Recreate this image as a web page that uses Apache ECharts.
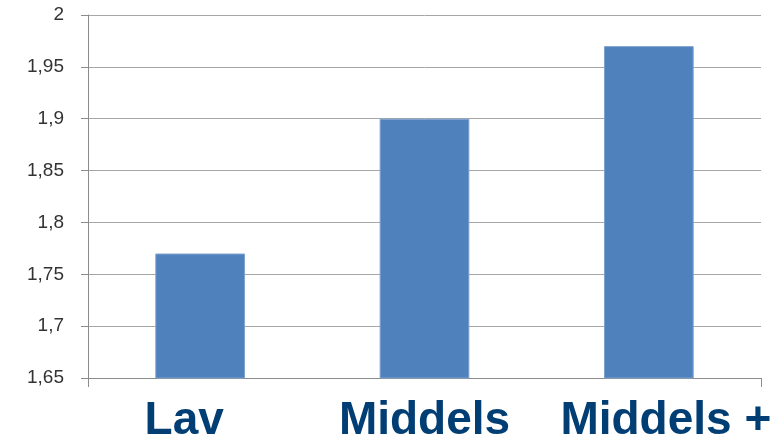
<!DOCTYPE html>
<html>
<head>
<meta charset="utf-8">
<script src="https://cdn.jsdelivr.net/npm/echarts@6/dist/echarts.min.js"></script>
<style>html,body{margin:0;padding:0;background:#fff}#c{width:784px;height:440px}</style>
</head>
<body>
<div id="c"></div>
<script>
var categories = ['Lav', 'Middels', 'Middels +'];
var values = [1.77, 1.90, 1.97];
var yMin = 1.65, yMax = 2.0, yStep = 0.05;

var chart = echarts.init(document.getElementById('c'), null, {renderer: 'canvas'});
var labelFont = {fontFamily: 'Liberation Sans, Arial, sans-serif', fontWeight: 'bold', fontSize: 46, color: '#003E73'};
chart.setOption({
  animation: false,
  grid: {left: 88, right: 23, top: 15, bottom: 62, containLabel: false, outerBoundsMode: 'none'},
  xAxis: {
    type: 'category',
    data: categories,
    axisLine: {lineStyle: {color: '#8c8c8c', width: 1}},
    axisTick: {show: true, length: 9, lineStyle: {color: '#8c8c8c'},
      interval: function (i) { return i === 0 || i === categories.length; }},
    axisLabel: {
      margin: 20,
      fontFamily: labelFont.fontFamily,
      fontWeight: 'bold',
      fontSize: 46,
      color: '#003E73',
      interval: 0,
      formatter: function (v, i) { return i === 0 ? '{a|' + v + '}' : (i === 2 ? '{s|' + v + '}' : v); },
      rich: {
        a: Object.assign({padding: [0, 32, 0, 0]}, labelFont),
        s: Object.assign({padding: [0, 0, 0, 34]}, labelFont)
      }
    }
  },
  yAxis: {
    type: 'value',
    min: yMin, max: yMax, interval: yStep,
    axisLine: {show: true, lineStyle: {color: '#8c8c8c', width: 1}},
    axisTick: {show: true, length: 7, lineStyle: {color: '#8c8c8c'}},
    splitLine: {lineStyle: {color: '#a6a6a6', width: 1}},
    axisLabel: {
      margin: 24,
      fontFamily: 'Liberation Sans, Arial, sans-serif',
      fontSize: 19,
      color: '#333333',
      formatter: function (v) { return (Math.round(v * 100) / 100).toString().replace('.', ','); }
    }
  },
  series: [{
    type: 'bar',
    data: values,
    barWidth: '40%',
    itemStyle: {color: '#4F81BD', borderColor: '#7fa3d0', borderWidth: 1}
  }]
});
</script>
</body>
</html>
